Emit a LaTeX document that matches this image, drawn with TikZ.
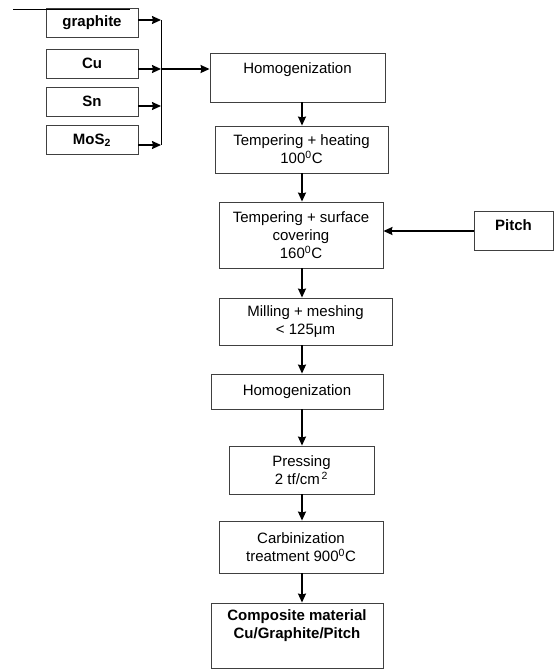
\documentclass[tikz,border=0pt]{standalone}
\usepackage{fontspec}
\setmainfont{Liberation Sans}
\usepackage{tikz}
\usetikzlibrary{arrows.meta}

\begin{document}
\begin{tikzpicture}[x=1pt,y=-1pt]
        % Define styles
        \tikzset{
            ingredient/.style={rectangle, draw=black!75, line width=0.9pt, font=\fontsize{15}{18}\selectfont\bfseries, minimum width=92pt, minimum height=29pt, inner sep=2pt},
            process/.style={rectangle, draw=black!75, line width=0.9pt, font=\fontsize{15}{18}\selectfont, align=center, inner sep=2pt},
            result/.style={process, font=\fontsize{15}{18}\selectfont\bfseries},
            arrow/.style={-{Stealth[length=9pt, width=8pt, inset=1pt]}, line width=1.5pt}
        }
        \useasboundingbox (0,0) rectangle (555,670);

        % Ingredients
        \node[ingredient] (graphite_node) at (92,22.5) {graphite};
        \node[ingredient] (cu_node) at (92,63.5) {Cu};
        \node[ingredient] (sn_node) at (92,101.5) {Sn};
        \node[ingredient] (mos_node) at (92,140) {MoS\textsubscript{2}};

        % Process steps
        \node[process, minimum width=175pt, minimum height=49pt, text depth=18pt] (homog_node_1) at (297.5,77.5) {Homogenization};
        \node[process, minimum width=173pt, minimum height=47pt] (heating_node) at (301.5,149.5) {Tempering + heating\\100\textsuperscript{0}C};
        \node[process, minimum width=164pt, minimum height=66pt] (covering_node) at (301,235) {Tempering + surface\\covering\\160\textsuperscript{0}C};
        \node[result, minimum width=79pt, minimum height=39pt, text depth=12pt] (pitch_node) at (513.5,231) {Pitch};
        \node[process, minimum width=173pt, minimum height=47pt] (milling_node) at (305.5,321.5) {Milling + meshing\\\textless{} 125μm};
        \node[process, minimum width=172pt, minimum height=35pt] (homog_node_2) at (297,391.5) {Homogenization};
        \node[process, minimum width=145pt, minimum height=48pt] (pressing_node) at (301.5,470) {Pressing\\2 tf/cm\textsuperscript{\,2}};
        \node[process, minimum width=164pt, minimum height=52pt] (carbon_node) at (301,547) {Carbinization\\treatment 900\textsuperscript{0}C};
        \node[result, minimum width=172pt, minimum height=65pt, text depth=22pt] (composite_node) at (297,635.5) {Composite material\\Cu/Graphite/Pitch};

        % Coordinates
        \coordinate (line_start) at (13,9.5);
        \coordinate (line_end) at (130,9.5);
        \coordinate (bus_top) at (161,20);
        \coordinate (bus_cu) at (161,69);
        \coordinate (bus_sn) at (161,106);
        \coordinate (bus_bottom) at (161,145);
        \coordinate (col) at (302,0);

        % Lines
        \draw[line width=1.3pt] (line_start) -- (line_end);
        \draw[line width=1pt] (bus_top) -- (bus_bottom);

        % Arrows
        \draw[arrow] (graphite_node.east |- bus_top) -- (bus_top);
        \draw[arrow] (cu_node.east |- bus_cu) -- (bus_cu);
        \draw[arrow] (sn_node.east |- bus_sn) -- (bus_sn);
        \draw[arrow] (mos_node.east |- bus_bottom) -- (bus_bottom);
        \draw[arrow] (bus_cu) -- (bus_cu -| homog_node_1.west);
        \draw[arrow] (homog_node_1.south -| col) -- (heating_node.north -| col);
        \draw[arrow] (heating_node.south -| col) -- (covering_node.north -| col);
        \draw[arrow] (pitch_node.west) -- (covering_node.east |- pitch_node.west);
        \draw[arrow] (covering_node.south -| col) -- (milling_node.north -| col);
        \draw[arrow] (milling_node.south -| col) -- (homog_node_2.north -| col);
        \draw[arrow] (homog_node_2.south -| col) -- (pressing_node.north -| col);
        \draw[arrow] (pressing_node.south -| col) -- (carbon_node.north -| col);
        \draw[arrow] (carbon_node.south -| col) -- (composite_node.north -| col);
    \end{tikzpicture}
\end{document}
